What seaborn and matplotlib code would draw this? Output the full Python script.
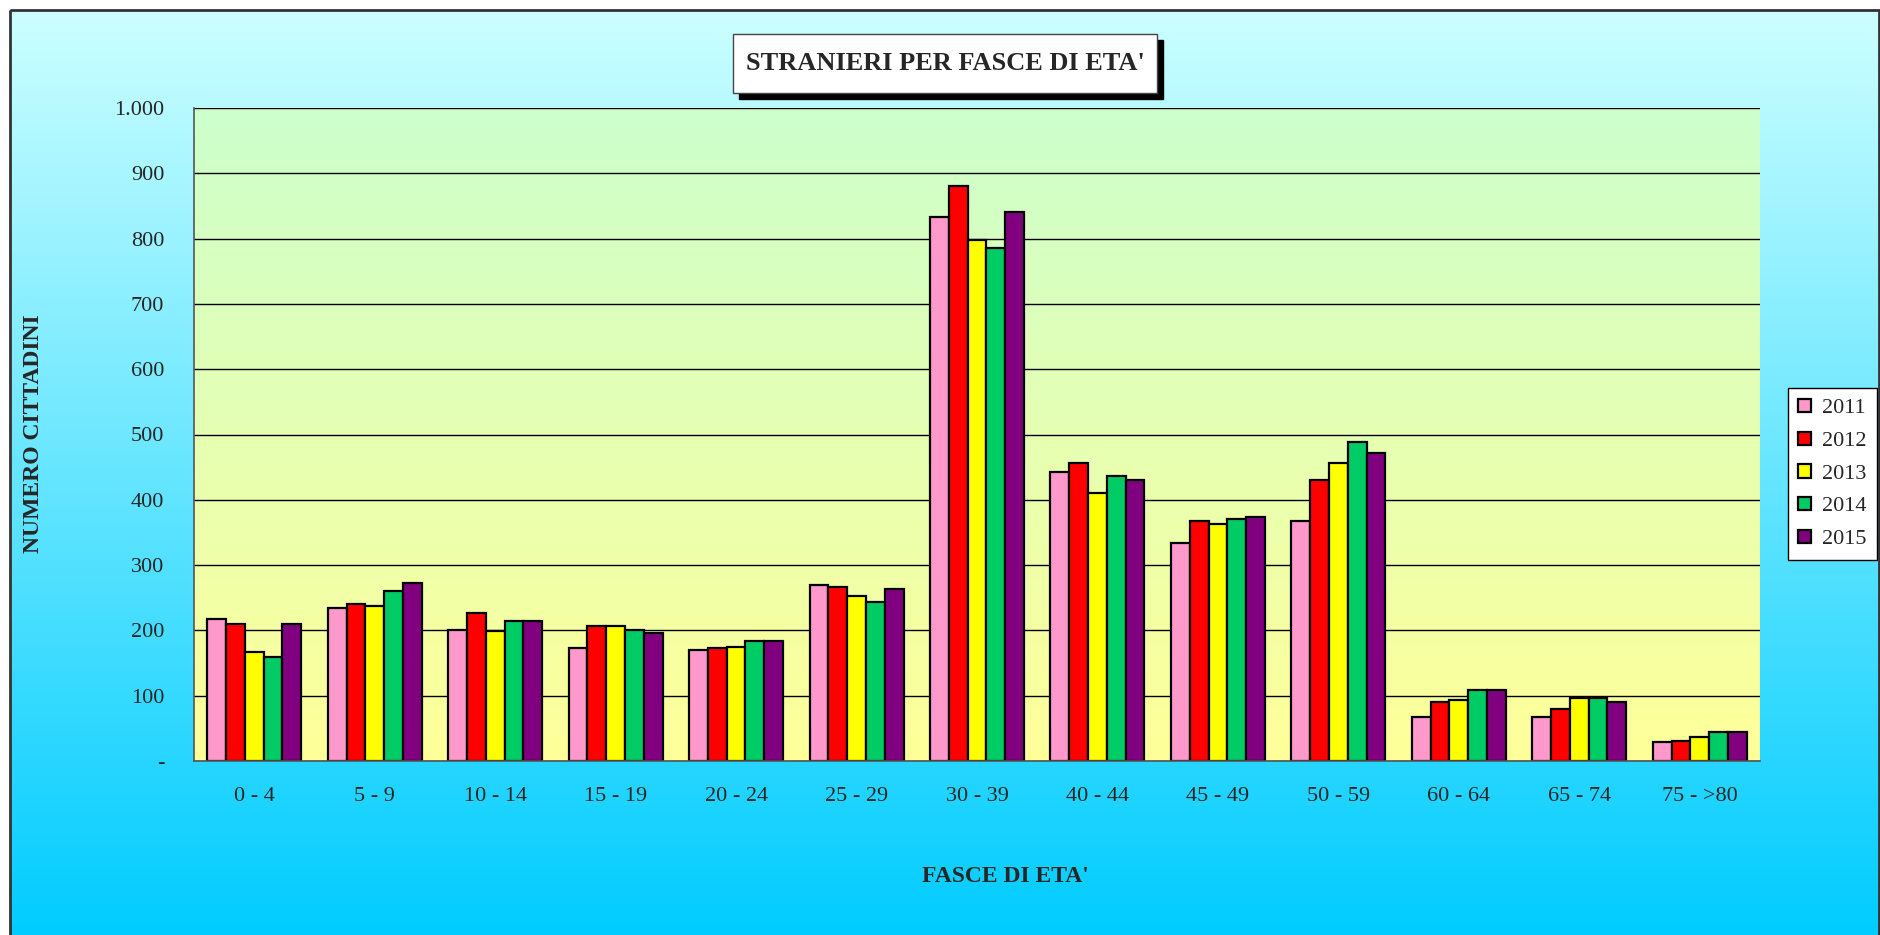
import numpy as np
import pandas as pd
import matplotlib
matplotlib.use('Agg')
import matplotlib.pyplot as plt
import seaborn as sns
from matplotlib.colors import LinearSegmentedColormap
from matplotlib.patches import Rectangle
from matplotlib.ticker import FuncFormatter, FixedLocator

# Dati: stranieri per fasce di eta'
fasce = ['0 - 4', '5 - 9', '10 - 14', '15 - 19', '20 - 24', '25 - 29', '30 - 39',
         '40 - 44', '45 - 49', '50 - 59', '60 - 64', '65 - 74', '75 - >80']
anni = ['2011', '2012', '2013', '2014', '2015']
v2011 = [218, 235, 201, 173, 170, 269, 833, 442, 334, 368, 68, 68, 29]
v2012 = [210, 241, 227, 207, 173, 266, 881, 456, 368, 431, 91, 79, 31]
v2013 = [167, 238, 199, 207, 175, 253, 798, 411, 363, 456, 94, 96, 37]
v2014 = [159, 261, 215, 201, 184, 243, 785, 436, 371, 488, 108, 96, 45]
v2015 = [210, 272, 215, 196, 184, 264, 841, 431, 374, 471, 108, 91, 45]
colori = ['#ff99cc', '#ff0000', '#ffff00', '#00cc66', '#800080']

data = pd.DataFrame({
    'fascia': fasce * 5,
    'anno': [a for a in anni for _ in fasce],
    'n': v2011 + v2012 + v2013 + v2014 + v2015,
})

sns.set_style('white')
plt.rcParams['font.family'] = ['Liberation Serif', 'DejaVu Serif']

W, H = 1881, 935
fig = plt.figure(figsize=(W / 100, H / 100), dpi=100)
fig.patch.set_facecolor('white')

# sfondo a gradiente della cornice
bg = fig.add_axes([0, 0, 1, 1], zorder=-10)
bg.set_xlim(0, W)
bg.set_ylim(H, 0)
bg.axis('off')
cm_out = LinearSegmentedColormap.from_list('out', ['#ccffff', '#00ccff'])
bg.imshow(np.linspace(0, 1, 256).reshape(-1, 1), cmap=cm_out, aspect='auto',
          extent=(10, 1879, H + 5, 10), zorder=0)
bg.add_patch(Rectangle((10, 10), 1869, H, fill=False, edgecolor='#333333', lw=2, zorder=2))

# titolo con ombra
bg.add_patch(Rectangle((739, 40), 424, 59, facecolor='black', edgecolor='black', zorder=3))
bg.add_patch(Rectangle((733, 34), 424, 59, facecolor='white', edgecolor='#444444', lw=1, zorder=4))
bg.text(945, 64, "STRANIERI PER FASCE DI ETA'", ha='center', va='center',
        fontsize=19, fontweight='bold', zorder=5)

# area del grafico
x0, x1, y0, y1 = 194, 1760, 108, 761
ax = fig.add_axes([x0 / W, 1 - y1 / H, (x1 - x0) / W, (y1 - y0) / H])
ax.patch.set_visible(False)
cm_in = LinearSegmentedColormap.from_list('in', ['#ccffcc', '#ffff99'])
ax.imshow(np.linspace(0, 1, 256).reshape(-1, 1), cmap=cm_in, aspect='auto',
          extent=(-0.5, 12.5, 0, 1000), zorder=0)

sns.barplot(data=data, x='fascia', y='n', hue='anno', palette=colori, width=0.78,
            gap=0, edgecolor='black', linewidth=1.6, saturation=1, ax=ax)

ax.set_xlim(-0.5, 12.5)
ax.set_ylim(0, 1000)
ax.set_yticks(range(0, 1001, 100))
ax.yaxis.set_major_formatter(FuncFormatter(
    lambda v, p: '-' if v == 0 else f'{int(v):,}'.replace(',', '.')))
ax.yaxis.grid(True, color='black', lw=1)
ax.set_axisbelow(True)
ax.xaxis.set_minor_locator(FixedLocator(np.arange(-0.5, 13, 1)))
ax.tick_params(axis='x', which='major', length=0, pad=19, labelsize=16)
ax.tick_params(axis='x', which='minor', length=5.5, width=1, color='#444444', direction='out')
ax.tick_params(axis='y', length=6.5, width=1, color='#444444', direction='out', pad=15, labelsize=16)
for s in ['top', 'right']:
    ax.spines[s].set_visible(False)
for s in ['left', 'bottom']:
    ax.spines[s].set_color('#555555')
    ax.spines[s].set_linewidth(1.2)
ax.set_xlabel('')
ax.set_ylabel('')

fig.text(34 / W, 1 - 434 / H, 'NUMERO CITTADINI', rotation=90, ha='center', va='center',
         fontsize=17, fontweight='bold')
fig.text(1005 / W, 1 - 876 / H, "FASCE DI ETA'", ha='center', va='center',
         fontsize=17, fontweight='bold')

leg = ax.legend(loc='center left', bbox_to_anchor=(1788 / W, 1 - 474 / H),
                bbox_transform=fig.transFigure, frameon=True, fancybox=False,
                edgecolor='black', framealpha=1, fontsize=16, handlelength=0.55,
                handleheight=0.55, handletextpad=0.5, labelspacing=0.59,
                borderpad=0.47, borderaxespad=0)
leg.get_frame().set_linewidth(1)

fig.savefig('out.png', dpi=100)
